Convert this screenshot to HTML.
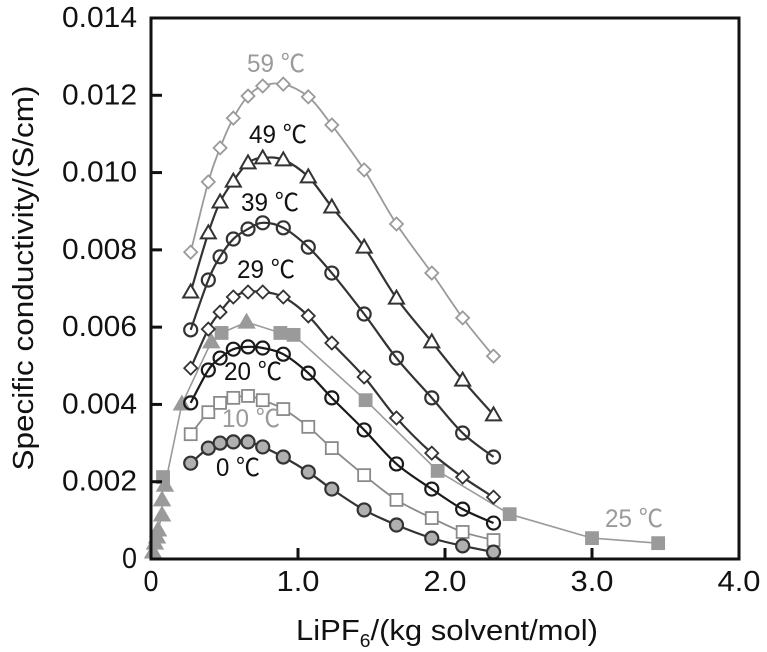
<!DOCTYPE html>
<html><head><meta charset="utf-8"><style>
body{margin:0;background:#fff}
svg{display:block;font-family:"Liberation Sans",Arial,"Noto Sans CJK SC",sans-serif}
</style></head><body>
<svg id="chart" width="767" height="652" viewBox="0 0 767 652" xmlns="http://www.w3.org/2000/svg">
<g id="plot"></g>
<g id="axes"></g>
<text x="296" y="640" font-size="29" fill="#111" textLength="302" lengthAdjust="spacingAndGlyphs">LiPF<tspan font-size="18" dy="7">6</tspan><tspan dy="-7">/(kg solvent/mol)</tspan></text>
<text transform="translate(33,278) rotate(-90)" text-anchor="middle" font-size="29" fill="#111" textLength="385" lengthAdjust="spacingAndGlyphs">Specific conductivity/(S/cm)</text>
</svg>
<script>
const xConc = [0.27,0.39,0.47,0.56,0.66,0.76,0.90,1.07,1.23,1.45,1.67,1.91,2.12,2.33];
const y59 = [0.00794,0.00976,0.01064,0.01141,0.01198,0.01224,0.01229,0.01196,0.01123,0.01007,0.00867,0.00740,0.00624,0.00525];
const y49 = [0.00691,0.00844,0.00924,0.00978,0.01025,0.01038,0.01033,0.00989,0.00911,0.00807,0.00675,0.00562,0.00463,0.00373];
const y39 = [0.00593,0.00722,0.00782,0.00828,0.00854,0.00870,0.00857,0.00807,0.00740,0.00634,0.00520,0.00417,0.00326,0.00264];
const y29 = [0.00494,0.00595,0.00639,0.00678,0.00691,0.00691,0.00678,0.00629,0.00559,0.00471,0.00365,0.00274,0.00212,0.00160];
const y20 = [0.00404,0.00489,0.00520,0.00543,0.00549,0.00546,0.00530,0.00481,0.00417,0.00334,0.00246,0.00181,0.00129,0.00093];
const y10 = [0.00323,0.00380,0.00404,0.00417,0.00422,0.00411,0.00388,0.00342,0.00287,0.00217,0.00153,0.00106,0.00070,0.00049];
const y0 = [0.00248,0.00287,0.00300,0.00303,0.00303,0.00290,0.00264,0.00225,0.00181,0.00127,0.00088,0.00054,0.00034,0.00018];
const x25 = [0.014,0.027,0.041,0.048,0.075,0.075,0.082,0.095,0.21,0.41,0.48,0.65,0.88,0.97,1.46,1.95,2.44,3.0,3.45];
const y25 = [0.00018,0.00041,0.00057,0.00075,0.00114,0.00153,0.00212,0.00191,0.00401,0.00562,0.00585,0.00613,0.00585,0.00580,0.00411,0.00228,0.00116,0.00054,0.00041];
const m25 = ['t','t','t','t','t','t','s','t','t','t','s','t','s','s','s','s','s','s','s'];
const xTicks = [0,1,2,3,4];
const xTickLabels = ['0','1.0','2.0','3.0','4.0'];
const yTicks = [0,0.002,0.004,0.006,0.008,0.010,0.012,0.014];
const yTickLabels = ['0','0.002','0.004','0.006','0.008','0.010','0.012','0.014'];

const NS='http://www.w3.org/2000/svg';
const X0=151,X1=739,Y0=559,Y1=18;
function sx(v){return X0+(v-0)/(4-0)*(X1-X0);}
function sy(v){return Y0-(v/0.014)*(Y0-Y1);}
const plot=document.getElementById('plot'),axes=document.getElementById('axes');
function mk(tag,attrs,parent){const e=document.createElementNS(NS,tag);for(const k in attrs)e.setAttribute(k,attrs[k]);parent.appendChild(e);return e;}
function spline(pts,smooth){
  if(!smooth){return 'M'+pts.map(p=>p[0].toFixed(1)+','+p[1].toFixed(1)).join('L');}
  let d='M'+pts[0][0]+','+pts[0][1];
  for(let i=0;i<pts.length-1;i++){
    const p0=pts[Math.max(i-1,0)],p1=pts[i],p2=pts[i+1],p3=pts[Math.min(i+2,pts.length-1)];
    const c1=[p1[0]+(p2[0]-p0[0])/6,p1[1]+(p2[1]-p0[1])/6],c2=[p2[0]-(p3[0]-p1[0])/6,p2[1]-(p3[1]-p1[1])/6];
    d+='C'+c1.join(',')+' '+c2.join(',')+' '+p2.join(',');
  }
  return d;
}
function marker(type,cx,cy,stroke,fill,parent){
  let e;
  if(type==='d'){e=mk('path',{d:`M${cx},${cy-6.5}L${cx+6.5},${cy}L${cx},${cy+6.5}L${cx-6.5},${cy}Z`,stroke:stroke,fill:fill,'stroke-width':1.8},parent);}
  else if(type==='t'){e=mk('path',{d:`M${cx},${cy-7.5}L${cx+7.5},${cy+5.5}L${cx-7.5},${cy+5.5}Z`,stroke:stroke,fill:fill,'stroke-width':2},parent);}
  else if(type==='s'){e=mk('rect',{x:cx-6,y:cy-6,width:12,height:12,stroke:stroke,fill:fill,'stroke-width':1.8},parent);}
  else {e=mk('circle',{cx:cx,cy:cy,r:6.5,stroke:stroke,fill:fill,'stroke-width':2.2},parent);}
  
  
}
function series(name,xs,ys,types,stroke,fill,lw,smooth){
  const g=mk('g',{},plot);
  
  
  const pts=xs.map((x,i)=>[sx(x),sy(ys[i])]);
  const p=mk('path',{d:spline(pts,smooth),fill:'none',stroke:stroke,'stroke-width':lw},g);
  
  
  pts.forEach((q,i)=>marker(Array.isArray(types)?types[i]:types,q[0],q[1],stroke,fill,g));
}
const G='#9a9a9a',D='#333';
series('series-25c',x25,y25,m25,G,G,1.6,false);
series('series-59c',xConc,y59,'d',G,'#fff',1.8,true);
series('series-49c',xConc,y49,'t',D,'#fff',2.2,true);
series('series-39c',xConc,y39,'c',D,'none',2.2,true);
series('series-29c',xConc,y29,'d',D,'#fff',2.2,true);
series('series-20c',xConc,y20,'c','#1a1a1a','none',2.2,true);
series('series-10c',xConc,y10,'s','#8a8a8a','#fff',1.8,true);
series('series-0c',xConc,y0,'c',D,'#b0b0b0',2.2,true);

const labels=[['59 ℃',276,72,G,'label-59c'],['49 ℃',278,143,'#111','label-49c'],['39 ℃',270,211,'#111','label-39c'],['29 ℃',266,278,'#111','label-29c'],['20 ℃',253,380,'#111','label-20c'],['10 ℃',251,427,G,'label-10c'],['0 ℃',238,476,'#111','label-0c'],['25 ℃',634,527,G,'label-25c']];
labels.forEach(l=>{const t=mk('text',{x:l[1],y:l[2],'text-anchor':'middle','font-size':25,fill:l[3],textLength:(l[0].length===3?44:58),lengthAdjust:'spacingAndGlyphs'},plot);t.textContent=l[0];

});

const fr=mk('rect',{x:X0,y:Y1,width:X1-X0,height:Y0-Y1,fill:'none',stroke:'#111','stroke-width':3},axes);


yTicks.forEach((v,i)=>{
  if(i>0&&i<yTicks.length-1){const tk=mk('line',{x1:X0,x2:X0+11,y1:sy(v),y2:sy(v),stroke:'#111','stroke-width':3},axes);
  
  }
  const lab=yTickLabels[i];
  const t=mk('text',{x:137,y:sy(v)+9,'text-anchor':'end','font-size':29,fill:'#111',textLength:(lab.length===1?15:75),lengthAdjust:'spacingAndGlyphs'},axes);t.textContent=lab;
  
  
});
xTicks.forEach((v,i)=>{
  if(i>0&&i<xTicks.length-1){const tk=mk('line',{x1:sx(v),x2:sx(v),y1:Y0,y2:Y0-11,stroke:'#111','stroke-width':3},axes);
  
  }
  const lab=xTickLabels[i];
  const t=mk('text',{x:sx(v),y:591,'text-anchor':'middle','font-size':29,fill:'#111',textLength:(lab.length===1?15:43),lengthAdjust:'spacingAndGlyphs'},axes);t.textContent=lab;
  
  
});
</script>
</body></html>
